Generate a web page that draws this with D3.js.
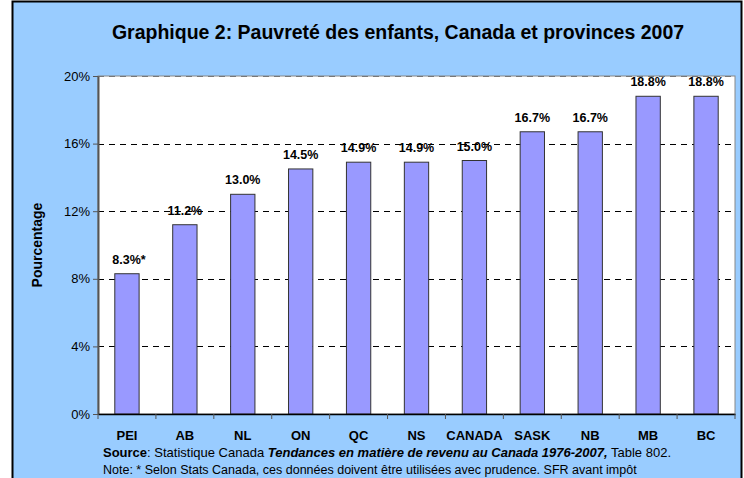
<!DOCTYPE html>
<html>
<head>
<meta charset="utf-8">
<script src="https://cdn.jsdelivr.net/npm/d3@7"></script>
<style>
  body { margin: 0; background: #fff; }
  text { font-family: Arial, "Liberation Sans", sans-serif; }
</style>
</head>
<body>
<div id="chart"></div>
<script>
// Data
const provinces = ["PEI", "AB", "NL", "ON", "QC", "NS", "CANADA", "SASK", "NB", "MB", "BC"];
const poverty = [8.3, 11.2, 13.0, 14.5, 14.9, 14.9, 15.0, 16.7, 16.7, 18.8, 18.8];
const valueLabels = ["8.3%*", "11.2%", "13.0%", "14.5%", "14.9%", "14.9%", "15.0%", "16.7%", "16.7%", "18.8%", "18.8%"];
const yTicks = [0, 4, 8, 12, 16, 20];

function drawChart() {
    const width = 744, height = 478;
    const plot = { left: 98, right: 735, top: 76, bottom: 414 };

    const svg = d3.select("#chart")
        .append("svg")
        .attr("width", width)
        .attr("height", height);

    // outer frame
    svg.append("rect")
        .attr("x", 12.5).attr("y", 1.5)
        .attr("width", 729).attr("height", 480)
        .attr("fill", "#99ccff")
        .attr("stroke", "#000")
        .attr("stroke-width", 2);

    svg.append("text")
        .attr("x", 398).attr("y", 39)
        .attr("text-anchor", "middle")
        .attr("font-size", "19.5px")
        .attr("font-weight", "bold")
        .text("Graphique 2: Pauvreté des enfants, Canada et provinces 2007");

    // plot area
    svg.append("rect")
        .attr("x", plot.left).attr("y", plot.top)
        .attr("width", plot.right - plot.left)
        .attr("height", plot.bottom - plot.top)
        .attr("fill", "#fff")
        .attr("stroke", "#888")
        .attr("stroke-width", 1);

    const x = d3.scaleBand()
        .domain(provinces)
        .range([plot.left, plot.right])
        .paddingInner(0.58)
        .paddingOuter(0.29);

    const y = d3.scaleLinear()
        .domain([0, 20])
        .range([plot.bottom, plot.top]);

    // dashed grid
    svg.append("g")
        .selectAll("line")
        .data(yTicks.filter(d => d > 0))
        .join("line")
        .attr("x1", plot.left).attr("x2", plot.right)
        .attr("y1", d => Math.round(y(d)) + 0.5)
        .attr("y2", d => Math.round(y(d)) + 0.5)
        .attr("stroke", d => d === 20 ? "#777" : "#000")
        .attr("stroke-dasharray", "6,5");

    // bars
    svg.append("g")
        .selectAll("rect")
        .data(provinces)
        .join("rect")
        .attr("x", d => x(d))
        .attr("y", (d, i) => y(poverty[i]))
        .attr("width", x.bandwidth())
        .attr("height", (d, i) => plot.bottom - y(poverty[i]))
        .attr("fill", "#9999ff")
        .attr("stroke", "#333")
        .attr("stroke-width", 1);

    // value labels
    svg.append("g")
        .selectAll("text")
        .data(provinces)
        .join("text")
        .attr("x", d => x(d) + x.bandwidth() / 2 + (d === "PEI" ? 2 : 0))
        .attr("y", (d, i) => y(poverty[i]) - 10)
        .attr("text-anchor", "middle")
        .attr("font-size", "12.5px")
        .attr("font-weight", "bold")
        .text((d, i) => valueLabels[i]);

    // y axis
    const yAxis = svg.append("g")
        .attr("transform", `translate(${plot.left},0)`)
        .call(d3.axisLeft(y).tickValues(yTicks).tickSize(5).tickSizeOuter(0).tickFormat(d => d + "%"));
    yAxis.select(".domain").attr("stroke", "#555").attr("stroke-width", 2);
    yAxis.selectAll(".tick line").attr("stroke", "#555");
    yAxis.selectAll(".tick text")
        .attr("font-size", "13px")
        .attr("font-family", "Arial, 'Liberation Sans', sans-serif")
        .attr("fill", "#000")
        .attr("x", -8);

    // x axis: ticks at band boundaries
    const xAxis = svg.append("g")
        .attr("transform", `translate(0,${plot.bottom})`)
        .call(d3.axisBottom(x).tickSize(0).tickPadding(17));
    xAxis.select(".domain").attr("stroke", "#000").attr("stroke-width", 1.5);
    xAxis.selectAll(".tick text")
        .attr("font-size", "13px")
        .attr("font-weight", "bold")
        .attr("font-family", "Arial, 'Liberation Sans', sans-serif")
        .attr("fill", "#000");
    const step = x.step();
    xAxis.append("g")
        .selectAll("line")
        .data(d3.range(provinces.length + 1))
        .join("line")
        .attr("x1", i => plot.left + i * step)
        .attr("x2", i => plot.left + i * step)
        .attr("y1", 0).attr("y2", 5)
        .attr("stroke", "#555");

    // y title
    svg.append("text")
        .attr("transform", `translate(42,${(plot.top + plot.bottom) / 2}) rotate(-90)`)
        .attr("text-anchor", "middle")
        .attr("font-size", "14px")
        .attr("font-weight", "bold")
        .text("Pourcentage");

    // source & note
    const src = svg.append("text")
        .attr("x", 103).attr("y", 457)
        .attr("font-size", "13px");
    src.append("tspan").attr("font-weight", "bold").text("Source");
    src.append("tspan").text(": Statistique Canada ");
    src.append("tspan").attr("font-weight", "bold").attr("font-style", "italic")
        .text("Tendances en matière de revenu au Canada 1976-2007,");
    src.append("tspan").text("  Table 802.");

    svg.append("text")
        .attr("x", 103).attr("y", 474)
        .attr("font-size", "12.5px")
        .text("Note: * Selon Stats Canada, ces données doivent être utilisées avec prudence. SFR avant impôt");
}

drawChart();
</script>
</body>
</html>
